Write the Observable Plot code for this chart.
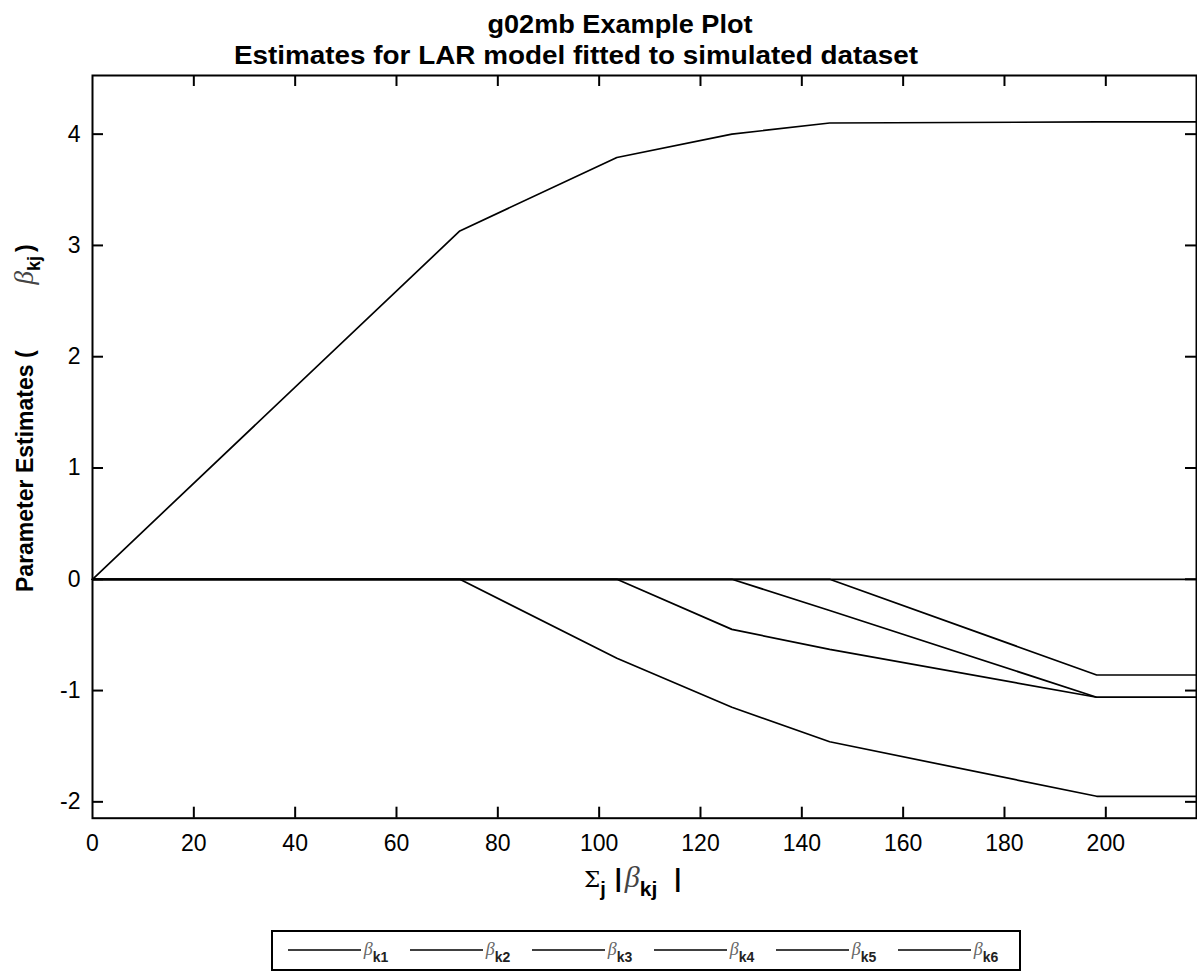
<!DOCTYPE html>
<html>
<head>
<meta charset="utf-8">
<script src="https://cdn.jsdelivr.net/npm/d3@7"></script>
<script src="https://cdn.jsdelivr.net/npm/@observablehq/plot@0.6"></script>
<style>
  html, body { margin: 0; padding: 0; background: #fff; }
  #chart svg { display: block; }
</style>
</head>
<body>
<div id="chart"></div>
<script>
// ---- data ----
const steps = [0, 72.5, 103.5, 126.2, 145.5, 198.2, 217.9];   // Σ_j |β_kj|
const beta1 = [0, 3.13, 3.79, 4.00, 4.10, 4.11, 4.11];
const beta2 = [0, 0, -0.71, -1.15, -1.46, -1.95, -1.95];
const beta3 = [0, 0, 0, -0.45, -0.63, -1.06, -1.06];
const beta4 = [0, 0, 0, 0, -0.28, -1.06, -1.06];
const beta5 = [0, 0, 0, 0, 0, -0.86, -0.86];
const beta6 = [0, 0, 0, 0, 0, 0, 0];
const seriesNames = ["k1", "k2", "k3", "k4", "k5", "k6"];
const xTicks = [0, 20, 40, 60, 80, 100, 120, 140, 160, 180, 200];
const yTicks = [-2, -1, 0, 1, 2, 3, 4];
const xDomain = [0, 217.9];
const yDomain = [-2.147, 4.527];

const allSeries = [beta1, beta2, beta3, beta4, beta5, beta6];
const rows = [];
allSeries.forEach((vals, i) => {
  vals.forEach((v, j) => rows.push({series: seriesNames[i], x: steps[j], y: v}));
});

const W = 1197, H = 972;
const mL = 92, mR = 1, mT = 75, mB = 154.3;
const frameW = W - mL - mR, frameH = H - mT - mB;
const tickLen = 11;
const FONT = "Liberation Sans, Arial, sans-serif";
const SERIF = "Liberation Serif, serif";

const plot = Plot.plot({
  width: W,
  height: H,
  marginLeft: mL,
  marginRight: mR,
  marginTop: mT,
  marginBottom: mB,
  style: {fontFamily: FONT, fontSize: "23px", color: "black", background: "white"},
  x: {domain: xDomain},
  y: {domain: yDomain},
  marks: [
    Plot.line(rows, {x: "x", y: "y", z: "series", stroke: "black", strokeWidth: 1.7}),
    // inward ticks, bottom & top
    Plot.tickX(xTicks.slice(1), {x: d => d, stroke: "black", strokeWidth: 2, insetTop: frameH - tickLen}),
    Plot.tickX(xTicks.slice(1), {x: d => d, stroke: "black", strokeWidth: 2, insetBottom: frameH - tickLen}),
    // inward ticks, left & right
    Plot.tickY(yTicks, {y: d => d, stroke: "black", strokeWidth: 2, insetRight: frameW - tickLen}),
    Plot.tickY(yTicks, {y: d => d, stroke: "black", strokeWidth: 2, insetLeft: frameW - tickLen}),
    Plot.axisX(xTicks, {anchor: "bottom", tickSize: 0, tickPadding: 16, label: null, fontSize: 23, tickFormat: d => String(d)}),
    Plot.axisY(yTicks, {anchor: "left", tickSize: 0, tickPadding: 12, label: null, fontSize: 23, tickFormat: d => String(d)}),
    Plot.frame({stroke: "black", strokeWidth: 2})
  ]
});

document.getElementById("chart").appendChild(plot);
const svg = d3.select(plot);

// ---- titles ----
svg.append("text")
  .attr("x", 620).attr("y", 33)
  .attr("text-anchor", "middle")
  .attr("font-family", FONT).attr("font-weight", "bold").attr("font-size", 25)
  .attr("textLength", 265).attr("lengthAdjust", "spacingAndGlyphs")
  .text("g02mb Example Plot");
svg.append("text")
  .attr("x", 576).attr("y", 64)
  .attr("text-anchor", "middle")
  .attr("font-family", FONT).attr("font-weight", "bold").attr("font-size", 25)
  .attr("textLength", 684).attr("lengthAdjust", "spacingAndGlyphs")
  .text("Estimates for LAR model fitted to simulated dataset");

// ---- y-axis label ----
const yl = svg.append("text")
  .attr("transform", "translate(33,592) rotate(-90)")
  .attr("text-anchor", "start")
  .attr("font-family", FONT).attr("font-weight", "bold").attr("font-size", 23);
yl.append("tspan").text("Parameter Estimates (");
yl.append("tspan").attr("dx", 66).attr("font-family", SERIF)
  .attr("font-style", "italic").attr("font-weight", "normal").attr("font-size", 27).attr("fill", "#444").text("β");
yl.append("tspan").attr("dy", 7).attr("font-size", 18).text("kj");
yl.append("tspan").attr("dy", -7).attr("dx", 4).text(")");

// ---- x-axis label ----
const xl = svg.append("text")
  .attr("x", 584).attr("y", 887)
  .attr("text-anchor", "start")
  .attr("font-family", FONT).attr("font-size", 25);
xl.append("tspan").attr("font-family", "DejaVu Serif, serif").attr("font-size", 23).text("Σ");
xl.append("tspan").attr("dy", 9).attr("font-weight", "bold").attr("font-size", 20).text("j");
xl.append("tspan").attr("dy", -9).attr("dx", 9).attr("font-weight", "bold").text("|");
xl.append("tspan").attr("dx", 3).attr("font-family", SERIF).attr("font-style", "italic").attr("font-size", 30).attr("fill", "#444").text("β");
xl.append("tspan").attr("dy", 9).attr("font-weight", "bold").attr("font-size", 21).text("kj");
xl.append("tspan").attr("dy", -9).attr("dx", 17).attr("font-weight", "bold").text("|");

// ---- legend ----
const legW = 748, legH = 39, legX = 646 - legW / 2, legY = 931;
const lg = svg.append("g");
lg.append("rect").attr("x", legX).attr("y", legY).attr("width", legW).attr("height", legH)
  .attr("fill", "white").attr("stroke", "black").attr("stroke-width", 2);
seriesNames.forEach((name, i) => {
  const x0 = legX + 16 + i * 122;
  const cy = legY + 19;
  lg.append("line").attr("x1", x0).attr("x2", x0 + 73).attr("y1", cy).attr("y2", cy)
    .attr("stroke", "black").attr("stroke-width", 1.7);
  const t = lg.append("text").attr("x", x0 + 88).attr("y", cy + 5)
    .attr("font-family", FONT).attr("font-size", 18);
  t.append("tspan").attr("font-family", SERIF).attr("font-style", "italic")
    .attr("fill", "#666").text("β");
  t.append("tspan").attr("dy", 7).attr("font-size", 14).attr("font-weight", "bold").attr("fill", "#222").text(name);
});
</script>
</body>
</html>
